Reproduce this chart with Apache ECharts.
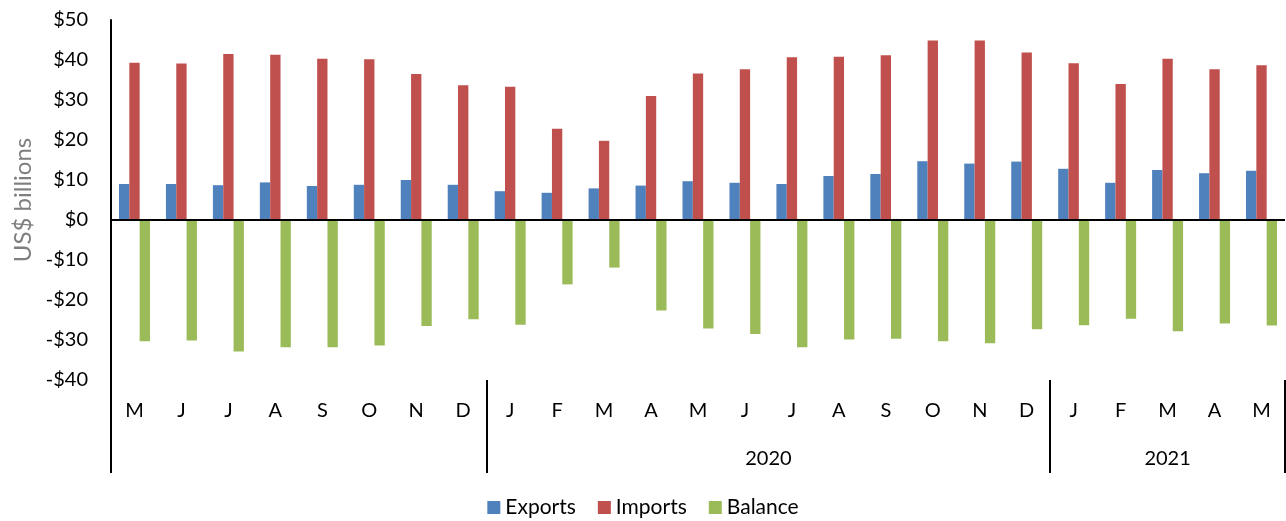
<!DOCTYPE html>
<html>
<head>
<meta charset="utf-8">
<script src="https://cdn.jsdelivr.net/npm/echarts@6/dist/echarts.min.js"></script>
<style>
  html, body { margin: 0; padding: 0; background: #fff; }
  #chart { width: 1286px; height: 521px; }
</style>
</head>
<body>
<div id="chart"></div>
<script>
// months May 2019 .. May 2021
var monthKeys = ['2019-05','2019-06','2019-07','2019-08','2019-09','2019-10','2019-11','2019-12',
  '2020-01','2020-02','2020-03','2020-04','2020-05','2020-06','2020-07','2020-08','2020-09','2020-10','2020-11','2020-12',
  '2021-01','2021-02','2021-03','2021-04','2021-05'];
var monthLetters = ['M','J','J','A','S','O','N','D',
  'J','F','M','A','M','J','J','A','S','O','N','D',
  'J','F','M','A','M'];
// year groups under the month row (first group has no label)
var groupLabels = ['', '2020', '2021'];
var groupSizes = [8, 12, 5];

var exportsData = [9.0, 9.0, 8.7, 9.4, 8.5, 8.8, 10.0, 8.8,
  7.2, 6.8, 7.9, 8.6, 9.7, 9.3, 9.0, 11.0, 11.5, 14.7, 14.1, 14.6,
  12.8, 9.3, 12.5, 11.7, 12.3];
var importsData = [39.3, 39.1, 41.5, 41.3, 40.3, 40.2, 36.5, 33.7,
  33.3, 22.8, 19.8, 31.0, 36.6, 37.7, 40.7, 40.8, 41.2, 44.9, 44.9, 41.9,
  39.2, 34.0, 40.3, 37.7, 38.7];
var balanceData = [-30.3, -30.1, -32.9, -31.8, -31.8, -31.4, -26.5, -24.8,
  -26.2, -16.1, -11.9, -22.6, -27.1, -28.5, -31.8, -29.9, -29.7, -30.3, -30.8, -27.3,
  -26.3, -24.7, -27.8, -25.9, -26.4];

var seriesNames = ['Exports', 'Imports', 'Balance'];
var seriesColors = ['#4F81BD', '#C0504D', '#9BBB59'];

var FONT = 'Lato, "Liberation Sans", sans-serif';

////////// group boundaries and centres, on a 0..n scale
var boundaries = [0];
var centres = {};
var acc = 0;
for (var g = 0; g < groupSizes.length; g++) {
  var start = acc;
  acc += groupSizes[g];
  boundaries.push(acc);
  if (groupLabels[g]) {
    centres[(start + acc) / 2] = groupLabels[g];
  }
}
var centreValues = Object.keys(centres).map(Number);

var chart = echarts.init(document.getElementById('chart'));

var allData = [exportsData, importsData, balanceData];
var series = [];
for (var s = 0; s < seriesNames.length; s++) {
  series.push({
    name: seriesNames[s],
    type: 'bar',
    xAxisIndex: 0,
    data: allData[s],
    barGap: '0%',
    barCategoryGap: '34%',
    itemStyle: { color: seriesColors[s] }
  });
}
// zero line
series[0].markLine = {
  silent: true,
  symbol: 'none',
  label: { show: false },
  lineStyle: { color: '#000', width: 2, type: 'solid' },
  data: [{ yAxis: 0 }],
  z: 10
};

chart.setOption({
  animation: false,
  textStyle: { fontFamily: FONT },
  grid: { left: 111, right: 1, top: 20, bottom: 141, containLabel: false, outerBoundsMode: 'none' },
  legend: {
    data: seriesNames,
    top: 492,
    left: 'center',
    itemWidth: 13,
    itemHeight: 13,
    itemGap: 22,
    icon: 'rect',
    textStyle: { fontSize: 21, color: '#000', fontFamily: FONT }
  },
  xAxis: [
    {
      type: 'category',
      data: monthKeys,
      position: 'bottom',
      axisLine: { show: false, onZero: false },
      axisTick: { show: false },
      axisLabel: {
        interval: 0,
        margin: 21,
        fontSize: 20,
        color: '#000',
        fontFamily: FONT,
        formatter: function (v, i) { return monthLetters[i]; }
      },
      splitLine: { show: false }
    },
    {
      type: 'value',
      min: 0,
      max: monthKeys.length,
      position: 'bottom',
      axisLine: { show: false, onZero: false },
      axisTick: {
        show: true,
        customValues: boundaries,
        length: 93,
        lineStyle: { color: '#000', width: 2 }
      },
      axisLabel: {
        customValues: centreValues,
        margin: 69,
        fontSize: 20,
        color: '#000',
        fontFamily: FONT,
        formatter: function (v) { return centres[v] || ''; }
      },
      splitLine: { show: false }
    }
  ],
  yAxis: {
    type: 'value',
    min: -40,
    max: 50,
    interval: 10,
    name: 'US$ billions',
    nameLocation: 'middle',
    nameRotate: 90,
    nameGap: 76,
    nameTextStyle: { fontSize: 24, color: '#7f7f7f', fontFamily: FONT },
    axisLine: { show: true, lineStyle: { color: '#000', width: 2 } },
    axisTick: { show: false },
    splitLine: { show: false },
    axisLabel: {
      margin: 23,
      fontSize: 20,
      color: '#000',
      fontFamily: FONT,
      formatter: function (v) { return v < 0 ? '-$' + (-v) : '$' + v; }
    }
  },
  series: series
});
</script>
</body>
</html>
